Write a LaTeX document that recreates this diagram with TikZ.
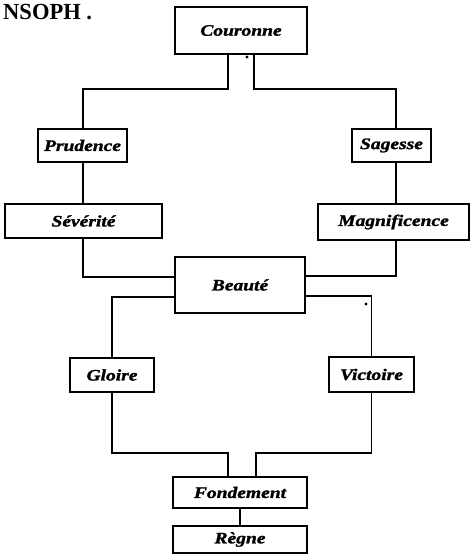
\documentclass[tikz,border=0pt]{standalone}
\usepackage{fontspec}
\setmainfont{Liberation Serif}
\newfontfamily\lblfont[FakeStretch=1.22,FakeBold=1.5]{Liberation Serif}
\newfontfamily\ttlfont[FakeStretch=0.98]{Liberation Serif}
\begin{document}
\begin{tikzpicture}[x=1pt,y=-1pt,
  box/.style={draw,line width=1.4pt,inner sep=0pt,outer sep=0pt,
    font=\lblfont\bfseries\itshape\fontsize{16}{18}\selectfont},
  conn/.style={line width=1.4pt}]
\useasboundingbox (0,0) rectangle (470,554);
\node[anchor=north west,inner sep=0pt,font=\ttlfont\bfseries\fontsize{23}{25}\selectfont] (title) at (3,4) {NSOPH .};
\node[box,minimum width=132pt,minimum height=47pt] (cou) at (241,30.5) {Couronne};
\node[box,minimum width=89pt,minimum height=33pt] (pru) at (82.5,145.5) {Prudence};
\node[box,minimum width=79pt,minimum height=33pt] (sag) at (391.5,145.5) {Sagesse};
\node[box,minimum width=157pt,minimum height=34pt] (sev) at (83.5,221) {Sévérité};
\node[box,minimum width=151pt,minimum height=36pt] (mag) at (393.5,222) {Magnificence};
\node[box,minimum width=130pt,minimum height=56pt] (bea) at (240,285) {Beauté};
\node[box,minimum width=84pt,minimum height=34pt] (glo) at (112,375) {Gloire};
\node[box,minimum width=85pt,minimum height=35pt] (vic) at (371.5,374.5) {Victoire};
\node[box,minimum width=134pt,minimum height=31pt] (fon) at (240,492.5) {Fondement};
\node[box,minimum width=134pt,minimum height=27pt] (reg) at (240,539.5) {Règne};
\coordinate (lx) at (83,0);
\coordinate (rx) at (396,0);
\coordinate (hy) at (0,453);
\draw[conn] ([xshift=-13pt]cou.south) -- ++(0,35) -| (pru.north -| lx);
\draw[conn] ([xshift=13pt]cou.south) -- ++(0,35) -| (sag.north -| rx);
\draw[conn] (pru.south -| lx) -- (sev.north -| lx);
\draw[conn] (sag.south -| rx) -- (mag.north -| rx);
\draw[conn] (sev.south -| lx) |- ([yshift=8pt]bea.west);
\draw[conn] (mag.south -| rx) |- ([yshift=9pt]bea.east);
\draw[conn] ([yshift=-12pt]bea.west) -| (glo.north);
\draw[conn] ([yshift=-11pt]bea.east) -| (vic.north);
\draw[conn] (glo.south) -- (glo.south |- hy) -| ([xshift=-12pt]fon.north);
\draw[conn] (vic.south) -- (vic.south |- hy) -| ([xshift=16pt]fon.north);
\draw[conn] (fon.south) -- (reg.north);
\fill (247,57) circle (1.6pt);
\fill (366,304) circle (1.6pt);
\end{tikzpicture}
\end{document}
